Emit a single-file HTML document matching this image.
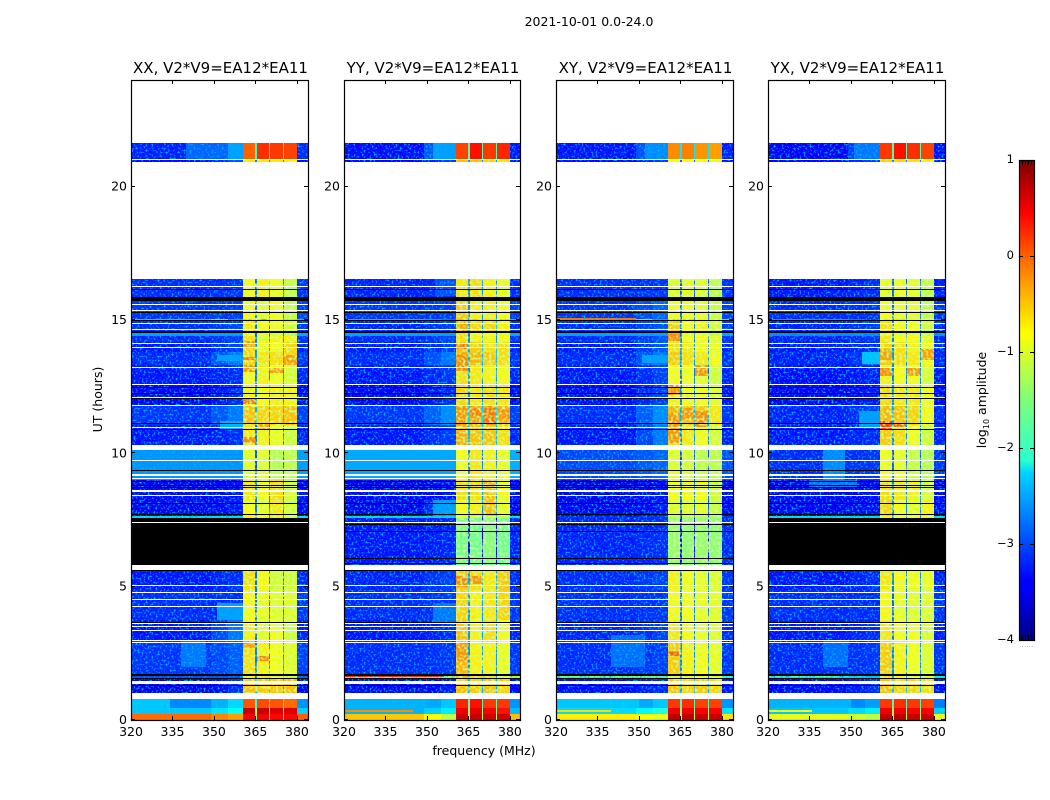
<!DOCTYPE html>
<html>
<head>
<meta charset="utf-8">
<title>2021-10-01 spectrogram</title>
<style>
html,body{margin:0;padding:0;background:#fff;}
#fig{display:block;width:1050px;height:800px;}
text{font-family:"DejaVu Sans","Liberation Sans",sans-serif;fill:#000;}
</style>
</head>
<body>
<svg id="fig" xmlns="http://www.w3.org/2000/svg" width="1050" height="800" viewBox="0 0 1050 800">
<defs>
<filter id="speckle" x="0" y="0" width="100%" height="100%">
<feTurbulence type="fractalNoise" baseFrequency="0.5" numOctaves="1" seed="7"/>
<feColorMatrix type="matrix" values="0 0 0 0 0  0 0 0 0 0.42  0 0 0 0 1  4.5 0 0 0 -2.3"/>
<feComposite in2="SourceGraphic" operator="in"/>
</filter>
<filter id="speckleWarm" x="0" y="0" width="100%" height="100%">
<feTurbulence type="fractalNoise" baseFrequency="0.38" numOctaves="1" seed="23"/>
<feColorMatrix type="matrix" values="0 0 0 0 0.6  0 0 0 0 1  0 0 0 0 0.3  3.5 0 0 0 -1.55"/>
<feComposite in2="SourceGraphic" operator="in"/>
</filter>
<linearGradient id="jet" x1="0" y1="1" x2="0" y2="0">
<stop offset="0" stop-color="#00007f"/><stop offset="0.11" stop-color="#0000ff"/>
<stop offset="0.125" stop-color="#0000ff"/><stop offset="0.35" stop-color="#00d4ff"/>
<stop offset="0.375" stop-color="#29ffce"/><stop offset="0.5" stop-color="#7dff7a"/>
<stop offset="0.64" stop-color="#ffff00"/><stop offset="0.75" stop-color="#ff9800"/>
<stop offset="0.89" stop-color="#ff0000"/><stop offset="1" stop-color="#7f0000"/>
</linearGradient>
</defs>
<text x="589" y="26" text-anchor="middle" font-size="12.5">2021-10-01 0.0-24.0</text>
<text transform="translate(102,399.5) rotate(-90)" text-anchor="middle" font-size="12.5">UT (hours)</text>
<text x="484" y="755" text-anchor="middle" font-size="12.5">frequency (MHz)</text>
<g id="panels"></g>
<g id="colorbar">
<rect x="1019.5" y="160.5" width="15" height="480" fill="url(#jet)" stroke="#000" stroke-width="1.2"/>
<text transform="translate(986,400) rotate(-90)" text-anchor="middle" font-size="12.5">log<tspan font-size="8" dy="3">10</tspan><tspan dy="-3"> amplitude</tspan></text>
<text x="1026.5" y="647" text-anchor="middle" font-size="6" style="fill:#777;letter-spacing:0.5px">......</text>
</g>
</svg>
<script>
// Axis domains and tick labels
const freqDomain = [320, 384];
const hourDomain = [0, 24];
const freqTicks = [320, 335, 350, 365, 380];
const hourTicks = [0, 5, 10, 15, 20];
const colorTicks = [1, 0, -1, -2, -3, -4];
const panelTitles = ["XX, V2*V9=EA12*EA11", "YY, V2*V9=EA12*EA11", "XY, V2*V9=EA12*EA11", "YX, V2*V9=EA12*EA11"];

// Frequency column edges (MHz): background, shoulder ramp, four lobes split by notches, tail
const freqEdges = [320, 349, 355, 360.5, 364.8, 365.4, 369.8, 370.4, 374.8, 375.4, 380, 384];

// Hour edges of the heatmap rows (top to bottom)
const rowHours = [21.64, 21.0, 20.93, 16.54, 15.71, 15.05, 14.98, 14.59, 14.4, 14.17, 13.8, 13.31, 12.56, 11.81, 11.06, 10.31, 10.12, 9.0, 8.25, 7.65, 7.58, 5.81, 5.63, 4.88, 3.75, 3.0, 1.73, 1.58, 1.01, 0.79, 0.45, 0.22, 0];

// Each row: background, shoulder, lobe 1..4 in log10 amplitude (null = no data)
const levelsXX = [
[-3.25,-2.6,-0.1,0.15,0.1,0.05],[-3.4,-3.0,-0.8,-0.8,-0.8,-0.9],null,
[-3.2,-3.15,-0.85,-0.8,-0.9,-1.15],[-3.15,-3.1,-0.85,-1.0,-0.9,-1.15],[-0.3,-2.6,-0.6,-0.5,-0.8,-0.6],
[-3.2,-3.1,-0.75,-0.9,-0.9,-1.1],[-2.6,-2.6,-0.8,-1.0,-1.1,-1.3],[-3.2,-3.1,-0.7,-1.0,-0.8,-0.8],
[-3.3,-3.1,-0.65,-0.9,-0.9,-0.65],[-3.2,-2.8,-0.65,-0.75,-0.7,-0.65],[-3.3,-3.2,-0.85,-0.8,-0.9,-1.05],
[-3.4,-3.2,-0.8,-0.85,-0.8,-0.8],[-3.15,-2.8,-0.55,-0.65,-0.65,-0.55],[-3.3,-3.2,-0.75,-0.8,-0.95,-1.1],
null,[-2.65,-2.65,-1.0,-1.0,-1.25,-1.2],[-3.45,-3.35,-0.75,-0.85,-0.7,-1.05],[-3.45,-3.3,-0.85,-0.95,-0.75,-1.05],
[-2.3,-2.3,-0.8,-0.9,-0.8,-1.1],[-3.4,-3.3,-0.8,-0.9,-0.8,-1.1],null,
[-3.3,-3.2,-0.7,-0.85,-1.1,-1.1],[-3.2,-3.2,-0.85,-0.95,-1.0,-1.0],[-3.3,-2.8,-0.8,-1.0,-0.9,-1.1],
[-3.15,-2.95,-0.7,-0.8,-0.9,-1.0],[-3.0,-3.0,-0.8,-0.8,-1.0,-1.1],[-3.5,-3.2,-0.55,-0.6,-0.6,-0.55],
null,[-2.7,-2.3,-0.05,0.0,-0.05,-0.15],[-2.4,-2.1,0.65,0.65,0.55,0.55],[-0.15,-0.4,0.4,0.4,0.35,0.35]
];
const levelsYY = [
[-3.35,-2.6,0.05,0.3,0.1,0.2],[-3.4,-3.1,-0.6,-0.6,-0.7,-0.8],null,
[-3.25,-3.2,-0.75,-0.7,-0.8,-0.95],[-3.15,-3.1,-0.6,-0.8,-0.8,-0.9],[-2.4,-2.8,-0.5,-0.5,-0.7,-0.6],
[-3.25,-3.1,-0.45,-0.65,-0.65,-0.8],[-2.6,-2.6,-0.7,-0.9,-0.9,-1.0],[-3.2,-3.1,-0.7,-0.8,-0.8,-0.9],
[-3.3,-3.1,-0.55,-0.6,-0.7,-0.7],[-3.2,-2.8,-0.45,-0.5,-0.6,-0.7],[-3.3,-3.15,-0.7,-0.75,-0.8,-0.85],
[-3.4,-3.2,-0.65,-0.75,-0.7,-0.75],[-3.15,-2.7,-0.35,-0.4,-0.35,-0.5],[-3.3,-3.1,-0.45,-0.55,-0.55,-0.7],
null,[-2.55,-2.55,-0.9,-0.75,-0.8,-0.95],[-3.45,-3.35,-0.7,-0.7,-0.55,-0.9],[-3.45,-3.0,-0.85,-0.8,-0.55,-0.95],
[-2.3,-2.3,-1.0,-1.0,-1.0,-1.1],[-3.3,-3.25,-1.55,-1.6,-1.5,-1.6],null,
[-3.25,-3.1,-0.6,-0.7,-0.75,-0.6],[-3.2,-3.15,-0.65,-0.8,-0.75,-0.65],[-3.3,-3.2,-0.55,-0.8,-0.7,-0.85],
[-3.2,-3.15,-0.5,-0.8,-0.8,-0.95],[-1.3,-1.3,-0.55,-0.7,-0.7,-0.9],[-3.45,-3.3,-0.55,-0.6,-0.55,-0.65],
null,[-2.7,-2.4,0.2,0.3,0.1,0.1],[-2.5,-2.2,0.45,0.5,0.4,0.3],[-0.6,-1.2,0.65,0.65,0.6,0.6]
];
const levelsXY = [
[-3.3,-2.7,-0.3,-0.25,-0.35,-0.4],[-3.4,-3.1,-0.9,-0.9,-0.9,-1.0],null,
[-3.2,-3.15,-1.0,-0.95,-1.0,-1.2],[-3.15,-2.9,-0.9,-0.95,-0.95,-1.15],[-0.6,-2.6,-0.6,-0.6,-0.8,-0.8],
[-3.2,-3.0,-0.6,-0.85,-0.8,-1.1],[-2.6,-2.6,-0.85,-1.0,-1.0,-1.2],[-3.2,-3.0,-0.75,-0.9,-0.85,-1.0],
[-3.3,-3.0,-0.7,-0.75,-0.85,-0.95],[-3.2,-2.8,-0.6,-0.7,-0.75,-0.85],[-3.3,-3.1,-0.85,-0.9,-0.95,-1.1],
[-3.35,-3.1,-0.8,-0.85,-0.85,-1.0],[-3.2,-2.7,-0.5,-0.55,-0.6,-0.75],[-3.3,-2.8,-0.7,-0.75,-0.85,-1.05],
null,[-3.05,-2.9,-1.0,-1.05,-1.2,-1.2],[-3.5,-3.35,-0.85,-0.85,-0.85,-1.1],[-3.45,-3.3,-1.0,-1.0,-0.95,-1.15],
[-3.2,-3.2,-1.2,-1.2,-1.2,-1.3],[-3.25,-3.2,-1.4,-1.45,-1.4,-1.45],null,
[-3.2,-3.1,-0.8,-0.9,-0.95,-1.0],[-3.2,-3.15,-0.85,-0.9,-0.95,-1.0],[-3.25,-3.1,-0.75,-0.85,-0.95,-1.0],
[-3.2,-3.1,-0.6,-0.8,-0.85,-0.95],[-1.9,-1.8,-0.8,-0.9,-0.9,-1.0],[-3.35,-3.2,-0.55,-0.65,-0.6,-0.65],
null,[-2.7,-2.4,0.1,0.15,0.05,0.05],[-2.3,-2.0,0.45,0.45,0.4,0.4],[-0.8,-1.0,0.7,0.7,0.65,0.65]
];
const levelsYX = [
[-3.4,-2.8,0.1,0.3,0.15,0.05],[-3.4,-3.1,-0.7,-0.7,-0.75,-0.85],null,
[-3.3,-3.2,-0.95,-0.9,-0.95,-1.15],[-3.2,-3.15,-0.9,-0.95,-0.95,-1.2],[-2.6,-3.0,-0.7,-0.7,-0.85,-0.85],
[-3.25,-3.15,-0.7,-0.85,-0.9,-1.1],[-2.7,-2.7,-0.85,-1.0,-1.05,-1.25],[-3.25,-3.15,-0.75,-0.85,-0.85,-1.0],
[-3.3,-3.2,-0.65,-0.7,-0.8,-0.9],[-3.25,-3.1,-0.6,-0.7,-0.75,-0.9],[-3.35,-3.25,-0.8,-0.85,-0.85,-1.05],
[-3.4,-3.3,-0.65,-0.75,-0.75,-0.9],[-3.25,-3.1,-0.5,-0.55,-0.65,-0.85],[-3.3,-3.2,-0.6,-0.7,-0.9,-1.1],
null,[-3.2,-3.15,-0.9,-0.95,-1.15,-1.25],[-3.45,-3.35,-0.7,-0.75,-0.8,-1.05],[-3.45,-3.35,-0.65,-0.85,-0.95,-0.8],
[-2.3,-2.3,-0.8,-0.9,-0.9,-0.95],[-3.4,-3.3,-0.8,-0.9,-0.9,-1.0],null,
[-3.3,-3.2,-0.75,-0.85,-0.9,-0.95],[-3.2,-3.2,-0.85,-0.95,-1.0,-1.0],[-3.3,-3.2,-0.75,-0.9,-0.9,-1.05],
[-3.2,-3.15,-0.6,-0.8,-0.9,-1.0],[-2.2,-2.4,-0.75,-0.85,-0.9,-1.0],[-3.4,-3.2,-0.55,-0.65,-0.65,-0.7],
null,[-2.8,-2.6,0.1,0.15,0.1,0.05],[-2.4,-2.2,0.45,0.45,0.4,0.4],[-1.0,-1.2,0.7,0.7,0.65,0.65]
];
const panelLevels = [levelsXX, levelsYY, levelsXY, levelsYX];

// Localised patches and lobe stripes: [f0, f1, top hour, bottom hour, level] per panel
const patchesXX = [[340,354,21.64,21.0,-2.9],[338,347,3.0,2.0,-2.8],[351,360.5,4.4,3.75,-2.6],[320,334,0.79,0.45,-2.4],[330,350,1.0,0.79,-2.8],[352,360.5,11.2,10.9,-2.5],[351,360.5,13.7,13.45,-2.6],
[360.5,364.8,14.2,14.0,-0.35],[360.5,364.8,13.6,13.5,-0.2],[360.5,364.8,13.3,13.05,-0.35],[370.4,374.8,13.25,13.0,-0.4],[375.4,380,13.7,13.3,-0.4],[365.4,369.8,15.05,14.95,-0.3],[360.5,364.8,12.05,11.85,-0.25],[365.4,369.8,11.1,10.9,-0.4],[360.5,364.8,10.6,10.4,-0.3],[360.5,364.8,3.0,2.7,-0.4],[365.4,369.8,2.4,2.2,-0.3]];
const patchesYY = [[352,360.5,21.64,21.0,-2.6],[352,360.5,8.25,7.65,-2.6],[352,360.5,4.4,3.6,-2.8],[320,350,0.79,0.45,-2.5],[353,360.5,16.54,15.9,-3.0],[320,356,1.68,1.6,0.2],[320,345,0.36,0.3,-0.3],
[360.5,364.8,5.4,5.0,-0.3],[365.4,369.8,5.4,5.1,-0.35],[360.5,364.8,13.7,13.1,-0.3],[360.5,364.8,14.1,13.9,-0.2],[370.4,374.8,11.7,11.1,-0.2],[365.4,369.8,11.7,11.4,-0.25],[375.4,380,11.7,11.3,-0.35],[360.5,364.8,2.9,2.2,-0.35]];
const patchesXY = [[352,360.5,21.64,21.0,-2.7],[351,360.5,13.7,13.4,-2.6],[340,352,3.2,2.0,-2.85],[320,350,0.79,0.45,-2.4],[320,358,1.68,1.6,-1.6],[320,340,0.36,0.3,-0.7],
[320,349,15.06,14.98,-0.2],[360.5,364.8,12.6,12.2,-0.35],[370.4,374.8,13.3,12.9,-0.35],[365.4,369.8,11.7,11.3,-0.35],[370.4,374.8,11.6,11.0,-0.3],[360.5,364.8,11.5,10.4,-0.35],[360.5,364.8,2.6,2.4,-0.1],[360.5,364.8,14.5,14.2,-0.3]];
const patchesYX = [[340,348,10.12,9.0,-2.7],[335,352,9.0,8.7,-2.8],[351,360.5,21.64,21.0,-2.8],[340,349,3.0,2.0,-2.85],[320,350,0.79,0.45,-2.5],[353,360.5,11.6,11.0,-2.6],[354,360.5,13.8,13.35,-2.4],[320,345,1.68,1.6,-1.8],[320,336,0.36,0.3,-0.9],
[360.5,364.8,11.2,10.9,0.1],[365.4,369.8,11.15,10.95,-0.1],[360.5,364.8,13.9,13.5,-0.4],[375.4,380,13.9,13.5,-0.4],[360.5,364.8,13.2,12.9,-0.3],[370.4,374.8,13.2,12.9,-0.35]];
const panelPatches = [patchesXX, patchesYY, patchesXY, patchesYX];

// Flagged-out intervals (white): [top hour, bottom hour]
const gapBands = [[24,21.64],[21.04,21.0],[20.93,16.54],[16.28,16.24],[15.6,15.56],[15.38,15.34],[14.89,14.85],[14.66,14.62],[14.14,14.1],[13.99,13.95],[13.24,13.2],[12.6,12.56],[12.11,12.07],[11.81,11.77],[10.99,10.95],[10.31,10.12],[9.75,9.71],[9.22,9.15],[9.08,9.04],[8.63,8.55],[8.44,8.4],[7.43,7.39],[5.81,5.63],[5.06,5.02],[4.8,4.76],[4.54,4.5],[4.28,4.24],[3.64,3.6],[3.53,3.49],[3.38,3.34],[3.0,2.96],[2.93,2.89],[1.46,1.35],[1.01,0.79]];
// Zero-amplitude lines (black): shared by all panels
const zeroBands = [[16.16,16.12],[15.86,15.71],[15.3,15.26],[15.0,14.96],[14.6,14.53],[12.49,12.45],[12.26,12.22],[12.08,12.04],[11.14,11.1],[10.91,10.87],[9.375,9.335],[8.98,8.91],[8.81,8.77],[8.74,8.7],[8.14,8.1],[7.73,7.69],[5.63,5.59],[3.68,3.64],[1.73,1.65],[1.58,1.54],[1.31,1.27]];
// Extra zero blocks per panel (antenna down for XX and YX)
const zeroXX = [[7.58,5.81]];
const zeroYY = [[7.35,7.31],[7.09,7.05],[6.08,6.04],[5.89,5.85]];
const zeroXY = [[7.35,7.31],[7.09,7.05],[6.08,6.04],[5.89,5.85]];
const zeroYX = [[7.58,5.81]];
const panelZeros = [zeroXX, zeroYY, zeroXY, zeroYX];

// Layout
const NS = "http://www.w3.org/2000/svg";
const panelLefts = [131, 344, 556, 768];
const panelWidths = [177, 176, 177, 177];
const plotTop = 80, plotBottom = 720;

function jet(v) {
  const t = Math.max(0, Math.min(1, (v + 4) / 5));
  const ch = (a) => Math.round(255 * Math.max(0, Math.min(1, 1.5 - Math.abs(4 * t - a))));
  return "rgb(" + ch(3) + "," + ch(2) + "," + ch(1) + ")";
}
function xScale(p, f) { return panelLefts[p] + (f - freqDomain[0]) / (freqDomain[1] - freqDomain[0]) * 177; }
function yScale(h) { return plotBottom - (h - hourDomain[0]) / (hourDomain[1] - hourDomain[0]) * (plotBottom - plotTop); }
function mk(tag, attrs, parent) {
  const e = document.createElementNS(NS, tag);
  for (const k in attrs) e.setAttribute(k, attrs[k]);
  parent.appendChild(e);
  return e;
}
function columnLevels(r) {
  const lobeMean = (r[2] + r[3] + r[4] + r[5]) / 4;
  const notch = lobeMean - 1.9;
  return [r[0], (r[0] + r[1]) / 2, r[1], r[2], notch, r[3], notch, r[4], notch, r[5], r[0] + 0.05];
}
function band(parent, p, f0, f1, h0, h1, fill) {
  const x0 = Math.round(xScale(p, f0)), x1 = Math.min(Math.round(xScale(p, f1)), panelLefts[p] + panelWidths[p]);
  const y0 = Math.round(yScale(h0)), y1 = Math.round(yScale(h1));
  return mk("rect", {x: x0, y: y0, width: Math.max(x1 - x0, 1), height: Math.max(y1 - y0, 1), fill: fill, "shape-rendering": "crispEdges"}, parent);
}

const panelsRoot = document.getElementById("panels");
panelLefts.forEach((left, p) => {
  const w = panelWidths[p];
  const g = mk("g", {}, panelsRoot);
  
  
  panelLevels[p].forEach((row, i) => {
    if (!row) return;
    columnLevels(row).forEach((v, c) => {
      const cell = band(g, p, freqEdges[c], freqEdges[c + 1], rowHours[i], rowHours[i + 1], jet(v));
      
      
    });
  });
  panelPatches[p].forEach((q) => {
    const patch = band(g, p, q[0], q[1], q[2], q[3], jet(q[4]));
    
    
  });
  const noiseBottom = yScale(0.8);
  const noise = mk("rect", {x: left, y: plotTop, width: Math.round(xScale(p, 360.5)) - left, height: noiseBottom - plotTop, fill: "#000", filter: "url(#speckle)"}, g);
  
  
  const tailX = Math.round(xScale(p, 380));
  const noise2 = mk("rect", {x: tailX, y: plotTop, width: left + w - tailX, height: noiseBottom - plotTop, fill: "#000", filter: "url(#speckle)"}, g);
  
  
  const lobeX = Math.round(xScale(p, 360.5));
  const lobeTop = yScale(16.54);
  const noise3 = mk("rect", {x: lobeX, y: lobeTop, width: tailX - lobeX, height: noiseBottom - lobeTop, fill: "#000", filter: "url(#speckleWarm)"}, g);
  
  
  zeroBands.concat(panelZeros[p]).forEach((b) => {
    const zero = band(g, p, freqDomain[0], freqDomain[1], b[0], b[1], "#000");
    
    
  });
  gapBands.forEach((b) => {
    const gap = band(g, p, freqDomain[0], freqDomain[1], b[0], b[1], "#fff");
    
    
  });
  const frame = mk("rect", {x: left + 0.5, y: plotTop + 0.5, width: w, height: plotBottom - plotTop, fill: "none", stroke: "#000", "stroke-width": 1.2}, g);
  
  
  freqTicks.forEach((f) => {
    const x = Math.round(xScale(p, f)) + 0.5;
    const tb = mk("line", {x1: x, x2: x, y1: plotBottom, y2: plotBottom - 4, stroke: "#000"}, g);
    
    
    const tt = mk("line", {x1: x, x2: x, y1: plotTop, y2: plotTop + 4, stroke: "#000"}, g);
    
    
    const lbl = mk("text", {x: xScale(p, f), y: 736, "text-anchor": "middle", "font-size": 12.5}, g);
    
    
    lbl.textContent = String(f);
  });
  hourTicks.forEach((h) => {
    const y = Math.round(yScale(h)) - 0.5;
    const tl = mk("line", {x1: left, x2: left + 4, y1: y, y2: y, stroke: "#000"}, g);
    
    
    const tr = mk("line", {x1: left + w - 4, x2: left + w, y1: y, y2: y, stroke: "#000"}, g);
    
    
    const lbl = mk("text", {x: left - 4, y: yScale(h) + 4, "text-anchor": "end", "font-size": 12.5}, g);
    
    
    lbl.textContent = String(h);
  });
  const title = mk("text", {x: left + w / 2 + 1, y: 73, "text-anchor": "middle", "font-size": 15}, g);
  
  
  title.textContent = panelTitles[p];
});

// Colorbar ticks and labels
const cb = document.getElementById("colorbar");
function cbY(v) { return 640 - (v + 4) / 5 * 480; }
colorTicks.forEach((v) => {
  const lbl = mk("text", {x: 1014, y: cbY(v) + 3, "text-anchor": "end", "font-size": 11.5}, cb);
  
  
  lbl.textContent = v < 0 ? "\u2212" + Math.abs(v) : String(v);
  if (v > -4 && v < 1) {
    const a = mk("line", {x1: 1019, x2: 1023, y1: cbY(v) + 0.5, y2: cbY(v) + 0.5, stroke: "#000"}, cb);
    
    
    const b = mk("line", {x1: 1030, x2: 1034, y1: cbY(v) + 0.5, y2: cbY(v) + 0.5, stroke: "#000"}, cb);
    
    
  }
});
[1022, 1025, 1028, 1031].forEach((x) => {
  const t1 = mk("line", {x1: x + 0.5, x2: x + 0.5, y1: 160, y2: 165, stroke: "#000"}, cb);
  
  
  const t2 = mk("line", {x1: x + 0.5, x2: x + 0.5, y1: 635, y2: 640, stroke: "#000"}, cb);
  
  
});
</script>
</body>
</html>
